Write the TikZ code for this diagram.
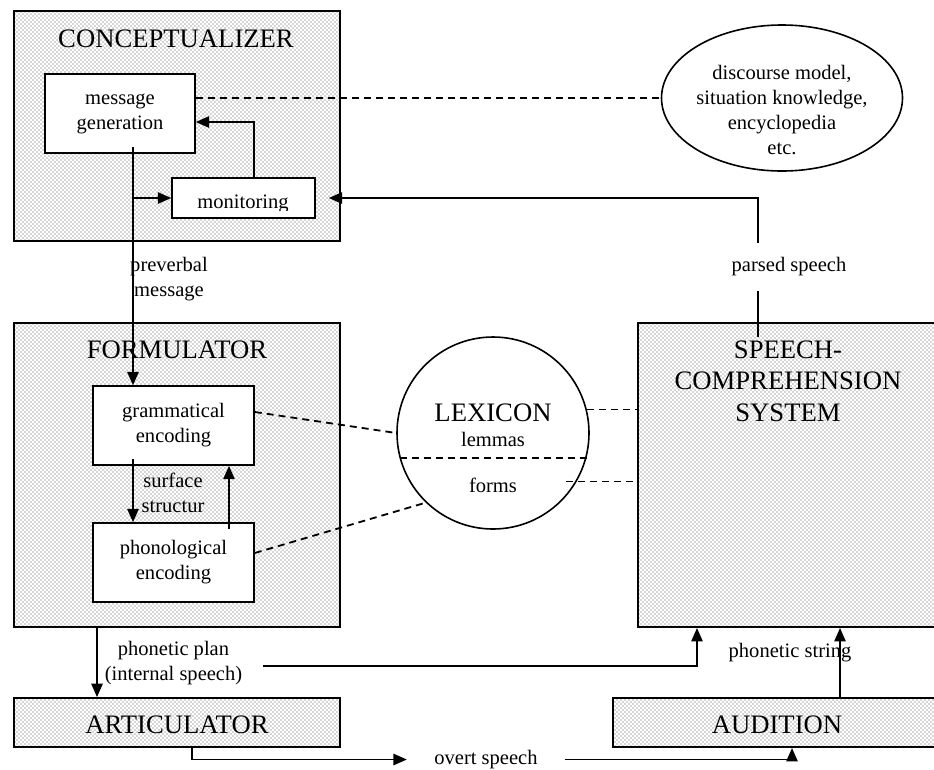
\documentclass[tikz,border=0pt]{standalone}
\usepackage{fontspec}
\setmainfont{Liberation Serif}
\usetikzlibrary{patterns,arrows.meta,shapes.geometric,calc}
\pgfdeclarepatternformonly{mydots}{\pgfqpoint{-1pt}{-1pt}}{\pgfqpoint{4pt}{4pt}}{\pgfqpoint{3pt}{3pt}}{%
  \pgfpathcircle{\pgfqpoint{0.75pt}{0.75pt}}{0.5pt}%
  \pgfpathcircle{\pgfqpoint{2.25pt}{2.25pt}}{0.5pt}%
  \pgfusepath{fill}}
\newcommand{\smtxt}{\fontsize{15.4pt}{18.75pt}\selectfont}
\newcommand{\bigtxt}{\fontsize{20pt}{23.6pt}\selectfont}
\tikzset{
  outerbox/.style={draw, line width=1.5pt, pattern=mydots, pattern color=black!70, inner sep=0pt},
  innerbox/.style={draw, fill=white, line width=1.2pt, align=center, font=\smtxt, inner sep=0pt},
  smalltext/.style={font=\smtxt, align=center, inner sep=0pt},
  titletext/.style={font=\bigtxt, align=center, inner sep=0pt},
  line/.style={line width=1.2pt},
  arrowline/.style={line width=1.2pt, -{Triangle[length=10pt,width=8.5pt]}},
  dashline/.style={line width=1.35pt, dash pattern=on 5.25pt off 3.75pt},
}
\begin{document}
\begin{tikzpicture}[x=0.75pt,y=-0.75pt]
\useasboundingbox (0,0) rectangle (934,769);
% outer boxes
\node[outerbox, minimum width=244.5pt, minimum height=172.5pt] (concept) at (177,126) {};
\node[outerbox, minimum width=244.5pt, minimum height=228pt] (form) at (177,475) {};
\node[outerbox, minimum width=229.5pt, minimum height=228pt] (sc) at (791,475) {};
\node[outerbox, minimum width=244.5pt, minimum height=36.75pt] (artic) at (177,722.5) {};
\node[outerbox, minimum width=248.25pt, minimum height=36.75pt] (aud) at (778.5,722.5) {};
% titles
\node[titletext, anchor=base] (concepttitle) at (176,47) {CONCEPTUALIZER};
\node[titletext, anchor=base] (formtitle) at (177,358) {FORMULATOR};
\node[titletext, anchor=base] (artictitle) at (177,733) {ARTICULATOR};
\node[titletext, anchor=base] (audtitle) at (777,733) {AUDITION};
\node[titletext] (sctitle) at (788,381) {SPEECH-\\COMPREHENSION\\SYSTEM};
% inner boxes
\node[innerbox, minimum width=112.5pt, minimum height=59.25pt] (msggen) at (120,113.5) {message\\generation};
\node[innerbox, minimum width=107.25pt, minimum height=30pt] (monitor) at (243.5,198) {};
\begin{scope}
  \clip (monitor.north west) rectangle (315,210);
  \node[smalltext, anchor=base] (monitext) at (243,208) {monitoring};
\end{scope}
\node[innerbox, minimum width=120.75pt, minimum height=59.25pt] (gram) at (173.5,425.5) {grammatical\\encoding};
\node[innerbox, minimum width=120.75pt, minimum height=59.25pt] (phon) at (173.5,562.5) {phonological\\encoding};
% ellipse and lexicon
\node[draw, ellipse, line width=1.2pt, fill=white, minimum width=180.75pt, minimum height=109.5pt, inner sep=0pt] (ell) at (782,98) {};
\node[smalltext] (elltext) at (782,110) {discourse model,\\situation knowledge,\\encyclopedia\\etc.};
\node[draw, circle, line width=1.2pt, fill=white, minimum size=144pt, inner sep=0pt] (lex) at (493,433) {};
\node[titletext, anchor=base] (lextitle) at (493,421) {LEXICON};
\node[smalltext, anchor=base] (lemmas) at (493,446) {lemmas};
\node[smalltext, anchor=base] (forms) at (493,492) {forms};
% labels
\node[smalltext] (preverbal) at (169,279) {preverbal\\message};
\node[smalltext] (surface) at (173,492.5) {surface\\structur};
\node[smalltext] (phonplan) at (173.5,663) {phonetic plan\\(internal speech)};
\node[smalltext, minimum height=35.25pt] (parsed) at (789,267) {parsed speech};
\node[smalltext, anchor=base] (phonstring) at (790,657) {phonetic string};
\node[smalltext, inner xsep=20.5pt] (overt) at (486,759.5) {overt speech};
% connectors
\coordinate (pv) at ([xshift=9.75pt]msggen.south);
\draw[arrowline] ([yshift=5.25pt]pv) -- (pv |- gram.north);
\coordinate (mbranch) at (pv |- monitor.west);
\draw[arrowline] (mbranch) -- (monitor.west);
\draw[arrowline] ([xshift=7.875pt]monitor.north) |- ([yshift=-6.375pt]msggen.east);
\draw[dashline] (ell.west -| msggen.east) -- (ell.west);
\coordinate (psx) at ([xshift=-24.75pt]sc.north);
\draw[line] ([yshift=-11.25pt]psx) -- (psx |- parsed.south);
\draw[arrowline] (psx |- parsed.north) |- ([xshift=9.75pt]monitor.east);
\coordinate (gd) at ([xshift=-30.375pt]gram.south);
\draw[arrowline] ([yshift=5.25pt]gd) -- (gd |- phon.north);
\coordinate (pu) at ([xshift=41.625pt]phon.north);
\draw[arrowline] ([yshift=-5.25pt]pu) -- (pu |- gram.south);
\draw[dashline] ([yshift=10.125pt]gram.east) -- (lex.west);
\draw[dashline] ([yshift=7.125pt]phon.east) -- (lex.226);
\draw[dashline] (lex.195) -- (lex.345);
\draw[dashline] (lex.14) -- (lex.14 -| sc.west);
\draw[dashline] ([xshift=-8pt]lex.330) -- (lex.330 -| sc.west);
\coordinate (pp) at ([xshift=-60pt]form.south);
\draw[arrowline] (pp) -- (pp |- artic.north);
\coordinate (isp) at (263,666);
\coordinate (isup) at ([xshift=-70.5pt]sc.south);
\draw[arrowline] (isp) -| (isup);
\coordinate (ps) at ([xshift=46.125pt]aud.north);
\draw[arrowline] (ps) -- (ps |- sc.south);
\coordinate (ov) at ([xshift=11.25pt]artic.south);
\draw[arrowline] (ov) |- (overt.west);
\coordinate (au) at ([xshift=10.125pt]aud.south);
\draw[arrowline] (overt.east) -| (au);
\end{tikzpicture}
\end{document}
